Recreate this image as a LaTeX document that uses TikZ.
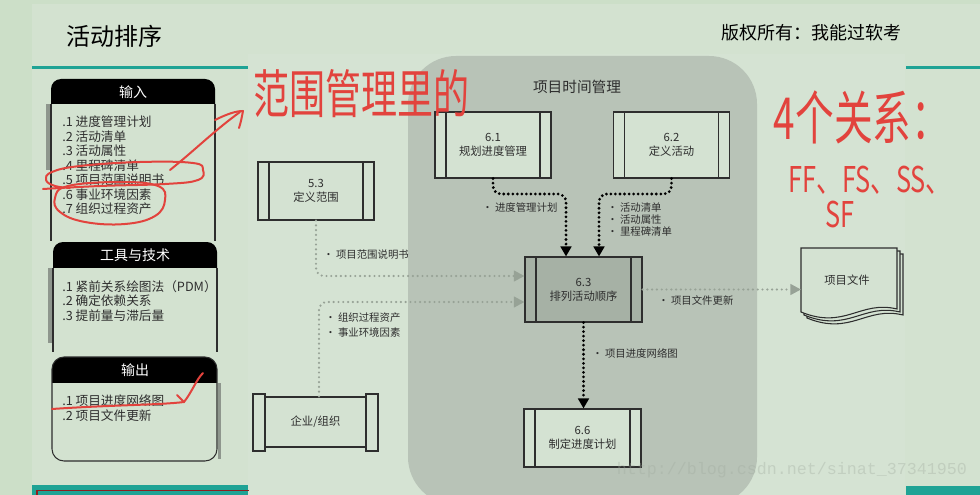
\documentclass[tikz,border=0pt]{standalone}
\usepackage{fontspec}
\setmainfont{Noto Sans CJK SC}
\newfontfamily\wmfont{Liberation Mono}
\usetikzlibrary{arrows.meta,calc}
\definecolor{outerbg}{HTML}{CCDFC8}
\definecolor{slidebg}{HTML}{D3E2D0}
\definecolor{imgbg}{HTML}{D5E3D3}
\definecolor{panelgrey}{HTML}{B8C3B7}
\definecolor{boxfill}{HTML}{D4E2D2}
\definecolor{darkbox}{HTML}{A6B1A5}
\definecolor{tealbar}{HTML}{1FA395}
\definecolor{redpen}{HTML}{E2433D}
\definecolor{greydot}{HTML}{97A296}
\definecolor{inkgrey}{HTML}{2E2E2E}
\definecolor{stripe}{HTML}{8E968D}
\definecolor{wmgrey}{HTML}{A0AA9E}
\definecolor{darkred}{HTML}{8E1F1F}
\begin{document}
\begin{tikzpicture}[x=0.75pt,y=-0.75pt,
  proc/.style={draw=inkgrey, line width=0.8pt, fill=boxfill, align=center, inner sep=0pt, text=inkgrey,
    font=\fontsize{8.5}{10.5}\selectfont,
    path picture={\draw[inkgrey,line width=0.8pt]
      ([xshift=8.25pt]path picture bounding box.north west) -- ([xshift=8.25pt]path picture bounding box.south west)
      ([xshift=-8.25pt]path picture bounding box.north east) -- ([xshift=-8.25pt]path picture bounding box.south east);}},
  blackflow/.style={line width=2.3pt, dash pattern=on 0pt off 3.4pt, line cap=round, draw=black,
    -{Triangle[length=7.5pt,width=8pt]}, rounded corners=6pt},
  greyflow/.style={line width=1.8pt, dash pattern=on 0pt off 3.6pt, line cap=round, draw=greydot,
    -{Triangle[length=8pt,width=8pt]}, rounded corners=6pt},
  lbl/.style={anchor=west, inner sep=0pt, text=inkgrey, font=\fontsize{7.8}{9}\selectfont, align=left},
  item/.style={anchor=west, inner sep=0pt, text=inkgrey, font=\fontsize{9.5}{10.7}\selectfont},
  hdr/.style={text=white, inner sep=0pt, font=\fontsize{10.5}{12}\selectfont},
  pen/.style={draw=redpen, line width=1.5pt, line cap=round, line join=round},
  hand/.style={text=redpen, inner sep=0pt}
]
\useasboundingbox (0,0) rectangle (980,495);
\clip (0,0) rectangle (980,495);
% backgrounds
\fill[outerbg] (0,0) rectangle (980,495);
\fill[slidebg] (32,4) rectangle (980,495);
\fill[imgbg] (248,54) rectangle (905,495);
\fill[panelgrey, rounded corners=36pt] (408,56) rectangle (757,505);
% teal bars
\fill[tealbar] (32,66) rectangle (248,69);
\fill[tealbar] (906,66) rectangle (980,69);
\fill[tealbar] (32,485) rectangle (248,495);
\draw[darkred, line width=0.8pt] (37,496) -- (37,490.5) -- (249,490.5);
\fill[tealbar] (906,486) rectangle (980,495);
% header texts
\node[anchor=west, inner sep=0pt, font=\fontsize{18}{20}\selectfont] (title) at (66,36) {活动排序};
\node[anchor=west, inner sep=0pt, font=\fontsize{13.5}{15}\selectfont] (copyr) at (721,33) {版权所有：我能过软考};

% ---- left panel: input
\fill[black, rounded corners=7.5pt] (51,79) rectangle (215,115);
\fill[slidebg] (51,104) rectangle (215,242);
\fill[stripe] (46,104) rectangle (49.5,170);
\draw[inkgrey, line width=0.8pt] (51,104) -- (51,241) (215,104) -- (215,241);
\node[hdr] (inhdr) at (133,92) {输入};
\node[item] (in1) at (62,122) {.1 进度管理计划};
\node[item] (in2) at (62,137) {.2 活动清单};
\node[item] (in3) at (62,151) {.3 活动属性};
\node[item] (in4) at (62,166) {.4 里程碑清单};
\node[item] (in5) at (62,180) {.5 项目范围说明书};
\node[item] (in6) at (62,195) {.6 事业环境因素};
\node[item] (in7) at (62,209) {.7 组织过程资产};
% tools
\fill[black, rounded corners=7.5pt] (53,242) rectangle (217,280);
\fill[slidebg] (53,268) rectangle (217,354);
\fill[stripe] (48,268) rectangle (51.5,343);
\draw[inkgrey, line width=0.8pt] (53,268) -- (53,352) (217,268) -- (217,352);
\node[hdr] (tlhdr) at (135,255) {工具与技术};
\node[item] (tl1) at (62,287) {.1 紧前关系绘图法（PDM）};
\node[item] (tl2) at (62,301) {.2 确定依赖关系};
\node[item] (tl3) at (62,316) {.3 提前量与滞后量};
% output
\fill[slidebg, rounded corners=9pt] (52,357) rectangle (217,461);
\begin{scope}
  \clip[rounded corners=9pt] (52,357) rectangle (217,461);
  \fill[black] (52,357) rectangle (217,383);
\end{scope}
\draw[inkgrey, line width=0.8pt, rounded corners=9pt] (52,357) rectangle (217,461);
\fill[stripe] (217.5,383) rectangle (221,459);
\node[hdr] (outhdr) at (135,370) {输出};
\node[item] (out1) at (62,401) {.1 项目进度网络图};
\node[item] (out2) at (62,416) {.2 项目文件更新};

% ---- process diagram
\node[font=\fontsize{11}{13}\selectfont, text=inkgrey, inner sep=0pt] (ptitle) at (577,87) {项目时间管理};
\node[proc, minimum width=87pt, minimum height=49.5pt] (p61) at (493,145) {6.1\\规划进度管理};
\node[proc, minimum width=87pt, minimum height=49.5pt] (p62) at (671.5,145) {6.2\\定义活动};
\node[proc, minimum width=87pt, minimum height=43.5pt] (p53) at (316,191) {5.3\\定义范围};
\node[proc, fill=darkbox, minimum width=87.75pt, minimum height=48.75pt] (p63) at (583.5,289.5) {6.3\\排列活动顺序};
\node[proc, minimum width=87.75pt, minimum height=43.5pt] (p66) at (582.5,438) {6.6\\制定进度计划};
% enterprise
\draw[inkgrey, line width=0.8pt, fill=boxfill] (253,394) rectangle (265,451);
\draw[inkgrey, line width=0.8pt, fill=boxfill] (366,394) rectangle (378,451);
\node[draw=inkgrey, line width=0.8pt, fill=boxfill, minimum width=75.75pt, minimum height=37.5pt, inner sep=0pt,
  text=inkgrey, font=\fontsize{8.5}{10.5}\selectfont] (org) at (315.5,422) {企业/组织};
% document
\begin{scope}[shift={(6,6)}]
  \filldraw[draw=inkgrey, line width=0.8pt, fill=boxfill] (801,248) -- (897,248) -- (897,309) .. controls (860,300) and (845,330) .. (801,312) -- cycle;
\end{scope}
\begin{scope}[shift={(3,3)}]
  \filldraw[draw=inkgrey, line width=0.8pt, fill=boxfill] (801,248) -- (897,248) -- (897,309) .. controls (860,300) and (845,330) .. (801,312) -- cycle;
\end{scope}
\filldraw[draw=inkgrey, line width=0.8pt, fill=boxfill] (801,248) -- (897,248) -- (897,309) .. controls (860,300) and (845,330) .. (801,312) -- cycle;
\node[inner sep=0pt, text=inkgrey, font=\fontsize{8.5}{10.5}\selectfont] (doc) at (847,280) {项目文件};
\coordinate (docin) at (801,289.5);

% connectors
\draw[blackflow] (p61.south) |- (566,194) -- (566,194 |- p63.north);
\draw[blackflow] (p62.south) |- (599,194) -- (599,194 |- p63.north);
\draw[blackflow] (p63.south) -- (p63.south |- p66.north);
\draw[greyflow] (p53.south) |- ($(p63.west)+(0,-13.5)$);
\draw[greyflow] ($(org.north)+(3.5,0)$) |- ($(p63.west)+(0,12.5)$);
\draw[greyflow] (p63.east) -- (docin);

% labels
\node[lbl] (l1) at (482,208) {• 进度管理计划};
\node[lbl] (l2) at (607,220) {• 活动清单\\• 活动属性\\• 里程碑清单};
\node[lbl] (l3) at (323,255) {• 项目范围说明书};
\node[lbl, font=\fontsize{7.8}{11.25}\selectfont] (l4) at (325,325.5) {• 组织过程资产\\• 事业环境因素};
\node[lbl] (l5) at (658,301) {• 项目文件更新};
\node[lbl] (l6) at (592,353) {• 项目进度网络图};

% watermark
\node[inner sep=0pt, text=wmgrey, text opacity=0.35, font=\wmfont\fontsize{12.5}{14}\selectfont] (wm) at (792,470) {http://blog.csdn.net/sinat\_37341950};

% ---- red handwriting
\draw[pen] plot[smooth, tension=0.7] coordinates {(43,189) (100,186) (165,184) (198,180) (203,170) (193,163) (140,162) (80,166) (52,172) (46,180) (55,186) (70,188)};
\draw[pen] plot[smooth cycle, tension=0.7] coordinates {(68,186) (120,182) (158,186) (165,200) (155,216) (125,224) (85,222) (60,212) (55,198)};
\draw[pen] (170,170) .. controls (195,150) and (215,130) .. (240,112);
\draw[pen] (215,120) .. controls (227,114) and (236,111) .. (243,111) .. controls (242,116) and (241,122) .. (239,128);
\draw[pen] (52,409) .. controls (110,405) and (160,405) .. (184,402);
\draw[pen] (177,395) -- (184,402) .. controls (192,392) and (196,380) .. (203,373);
\node[hand] (h1) at (361,94) {\scalebox{1}[1.45]{\fontsize{27}{30}\selectfont 范围管理里的}};
\node[hand] (h2) at (862,117) {\scalebox{1}[1.5]{\fontsize{29}{32}\selectfont 4个关系：}};
\node[hand] (h3) at (870,180) {\scalebox{1}[1.4]{\fontsize{19}{22}\selectfont FF、FS、SS、}};
\node[hand] (h4) at (840,215) {\scalebox{1}[1.4]{\fontsize{19}{22}\selectfont SF}};
\end{tikzpicture}
\end{document}
